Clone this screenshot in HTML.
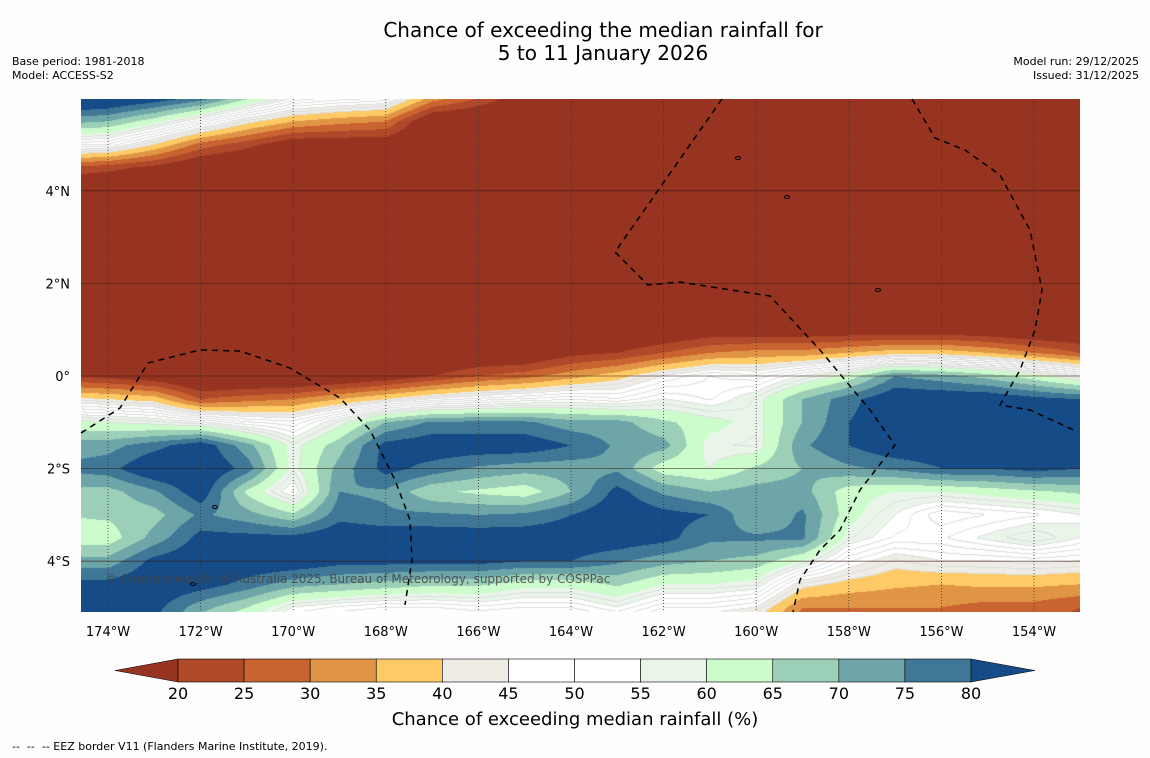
<!DOCTYPE html>
<html><head><meta charset="utf-8"><style>
body{margin:0;background:#fefefe;font-family:"DejaVu Sans","Liberation Sans",sans-serif;}
#wrap{position:relative;width:1150px;height:758px;overflow:hidden;background:#fefefe;}
.t{position:absolute;color:#000;white-space:nowrap;}
canvas{position:absolute;left:81px;top:99px;}
svg{position:absolute;left:0;top:0;}
</style></head><body>
<div id="wrap">
<div class="t" style="left:0;width:1206px;text-align:center;top:19px;font-size:20px;line-height:23px;">Chance of exceeding the median rainfall for<br>5 to 11 January 2026</div>
<div class="t" style="left:12px;top:55px;font-size:11px;line-height:14px;">Base period: 1981-2018<br>Model: ACCESS-S2</div>
<div class="t" style="right:11px;top:55px;font-size:11px;line-height:14px;text-align:right;">Model run: 29/12/2025<br>Issued: 31/12/2025</div>
<canvas id="map" width="999" height="513"></canvas>
<svg id="ov" width="1150" height="758"></svg>
<div class="t" style="left:105px;top:572px;font-size:12px;color:#444;opacity:.85;">© Commonwealth of Australia 2025, Bureau of Meteorology, supported by COSPPac</div>
<div class="t" style="left:0;width:1150px;text-align:center;top:709px;font-size:18px;">Chance of exceeding median rainfall (%)</div>
<div class="t" style="left:12px;top:740px;font-size:11px;">--&nbsp; --&nbsp; -- EEZ border V11 (Flanders Marine Institute, 2019).</div>
</div>
<script>
const lons=[-175,-174,-173,-172,-171,-170,-169,-168,-167,-166,-165,-164,-163,-162,-161,-160,-159,-158,-157,-156,-155,-154,-153];
const lats=[6,5.5,5,4.5,4,3.5,3,2.5,2,1.5,1,0.5,0,-0.5,-1,-1.5,-2,-2.5,-3,-3.5,-4,-4.5,-5,-5.5];
const T=[10,10,10,10,10,10,10,10,10,10,10,10,10,10,10,10,10,10,10,10,10,10,10];
const values=[
[90,88,84,78,66,55,52,50,33,25,15,10,10,10,10,10,10,10,10,10,10,10,10],
[72,70,62,52,42,35,32,30,12,10,10,10,10,10,10,10,10,10,10,10,10,10,10],
[52,50,40,28,22,15,15,15,10,10,10,10,10,10,10,10,10,10,10,10,10,10,10],
[24,22,18,12,10,10,10,10,10,10,10,10,10,10,10,10,10,10,10,10,10,10,10],
[12,11,10,10,10,10,10,10,10,10,10,10,10,10,10,10,10,10,10,10,10,10,10],
T,T,T,T,T,
[10,10,10,10,10,10,10,10,10,10,10,10,10,12,15,15,15,15,15,15,14,12,12],
[10,10,10,10,10,10,10,10,10,12,12,18,20,25,30,32,32,35,38,38,35,30,25],
[20,18,15,10,10,10,12,15,20,25,28,33,38,45,50,48,55,62,75,72,68,62,55],
[42,40,38,25,28,30,35,40,45,48,50,52,50,55,52,58,70,78,85,85,85,82,80],
[62,60,58,55,50,48,58,70,76,76,76,72,72,66,62,58,70,80,85,85,85,85,84],
[72,73,78,84,72,58,68,82,84,84,84,80,74,72,58,57,74,80,85,85,85,85,84],
[76,78,86,86,78,58,72,82,78,74,72,72,74,62,60,66,70,74,76,80,80,82,80],
[68,68,74,84,64,52,75,74,66,64,62,70,82,74,70,72,72,62,60,60,62,64,66],
[65,66,68,76,72,66,78,76,76,75,76,80,85,82,80,70,76,62,55,48,50,52,55],
[62,62,72,82,82,82,85,84,84,84,84,84,84,82,76,76,76,58,52,52,56,60,55],
[72,72,82,85,85,85,82,82,82,82,80,80,76,72,70,68,60,48,42,45,45,46,45],
[82,82,85,83,78,72,70,68,66,66,62,62,66,60,60,58,42,38,36,35,36,36,35],
[82,82,82,72,65,55,52,50,50,52,50,50,55,48,48,45,30,30,30,30,28,28,25],
[80,80,80,65,55,45,42,40,38,40,38,40,42,35,35,32,25,25,25,28,25,24,22]];
const levels=[20,25,30,35,40,45,50,55,60,65,70,75,80];
const colors=['#973321','#b0482a','#c96330','#e09445','#fdca66','#efece6','#ffffff','#ffffff','#eaf5ea','#ccfccc','#9ccfb7','#6da5a8','#3f7797','#154b86'];
const xTicks=[-174,-172,-170,-168,-166,-164,-162,-160,-158,-156,-154];
const yTicks=[4,2,0,-2,-4];

const X0=108,PX=46.3,Y0=376;
const xs=lon=>X0+(lon+174)*PX;
const ys=lat=>Y0-lat*PX;
function band(v){let i=0;while(i<levels.length&&v>=levels[i])i++;return i;}
function hex(c){return [parseInt(c.slice(1,3),16),parseInt(c.slice(3,5),16),parseInt(c.slice(5,7),16)];}
const rgb=colors.map(hex);
function sample(lon,lat){
  let fi=(lon-lons[0])/(lons[1]-lons[0]);let fj=(lats[0]-lat)/(lats[0]-lats[1]);
  fi=Math.max(0,Math.min(lons.length-1.001,fi));fj=Math.max(0,Math.min(lats.length-1.001,fj));
  const i=Math.floor(fi),j=Math.floor(fj),a=fi-i,b=fj-j;
  const v00=values[j][i],v10=values[j][i+1],v01=values[j+1][i],v11=values[j+1][i+1];
  return (v00*(1-a)+v10*a)*(1-b)+(v01*(1-a)+v11*a)*b;
}
const cv=document.getElementById('map'),ctx=cv.getContext('2d');
const img=ctx.createImageData(999,513);
const vals=new Float32Array(999*513);
for(let py=0;py<513;py++){for(let px=0;px<999;px++){
  const x=81+px+0.5,y=99+py+0.5;
  const lon=-174+(x-X0)/PX,lat=(Y0-y)/PX;
  vals[py*999+px]=sample(lon,lat);
}}
for(let py=0;py<513;py++){for(let px=0;px<999;px++){
  const v=vals[py*999+px];const b=band(v);let c=rgb[b];
  if(v>=40&&v<60){const r=vals[py*999+Math.min(998,px+1)],d=vals[Math.min(512,py+1)*999+px];
    const f=Math.floor(v/2.5);if(Math.floor(r/2.5)!==f||Math.floor(d/2.5)!==f)c=[222,222,222];}
  const k=(py*999+px)*4;img.data[k]=c[0];img.data[k+1]=c[1];img.data[k+2]=c[2];img.data[k+3]=255;
}}
ctx.putImageData(img,0,0);

const NS='http://www.w3.org/2000/svg';
const svg=document.getElementById('ov');
function mk(tag,attrs,parent){const e=document.createElementNS(NS,tag);for(const k in attrs)e.setAttribute(k,attrs[k]);(parent||svg).appendChild(e);return e;}
const FF='DejaVu Sans, Liberation Sans, sans-serif';
xTicks.forEach(lon=>{
  const l=mk('line',{x1:xs(lon),x2:xs(lon),y1:99,y2:612,stroke:'#333','stroke-width':0.8,'stroke-dasharray':'1,2'});
  
  
  const t=mk('text',{x:xs(lon),y:636,'font-size':13,'text-anchor':'middle','font-family':FF});
  t.textContent=Math.abs(lon)+'°W';
  
  
});
yTicks.forEach(lat=>{
  const l=mk('line',{x1:81,x2:1080,y1:ys(lat),y2:ys(lat),stroke:'#3a1a10','stroke-width':0.8,'stroke-opacity':0.7});
  
  
  const t=mk('text',{x:70,y:ys(lat)+5,'font-size':13,'text-anchor':'end','font-family':FF});
  t.textContent=lat===0?'0°':Math.abs(lat)+'°'+(lat>0?'N':'S');
  
  
});
const eez=[
 'M81,433 L120,408 L148,363 L200,350 L240,351 L290,368 L340,398 L370,430 L395,480 L410,520 L412,560 L405,605',
 'M722,99 L615,252 L648,285 L680,282 L770,296 L820,350 L870,410 L895,445 L860,490 L840,530 L820,550 L800,580 L793,612',
 'M912,99 L935,138 L965,150 L1000,175 L1030,230 L1042,290 L1035,330 L1020,370 L1000,405 L1030,410 L1078,432'];
eez.forEach(d=>{const p=mk('path',{d:d,fill:'none',stroke:'#000','stroke-width':1.5,'stroke-dasharray':'6,5'});
  
  });
[[787,197],[878,290],[215,507],[193,584],[738,158]].forEach(p=>{const c=mk('ellipse',{cx:p[0],cy:p[1],rx:2.5,ry:1.5,fill:'none',stroke:'#000','stroke-width':1});
  
  });
const cbX=178,cbW=793/12,cbY=659,cbH=23;
const lt=mk('polygon',{points:`115,670.5 ${cbX},${cbY} ${cbX},${cbY+cbH}`,fill:colors[0],stroke:'#000','stroke-width':0.5});


for(let i=0;i<12;i++){
  const r=mk('rect',{x:cbX+i*cbW,y:cbY,width:cbW,height:cbH,fill:colors[i+1],stroke:'#000','stroke-width':0.6});
  
  
}
const rt=mk('polygon',{points:`${cbX+12*cbW},${cbY} 1035,670.5 ${cbX+12*cbW},${cbY+cbH}`,fill:colors[13],stroke:'#000','stroke-width':0.5});


levels.forEach((lv,i)=>{const t=mk('text',{x:cbX+i*cbW,y:699,'font-size':16,'text-anchor':'middle','font-family':FF});
  t.textContent=lv;
  
  });
</script>
</body></html>
